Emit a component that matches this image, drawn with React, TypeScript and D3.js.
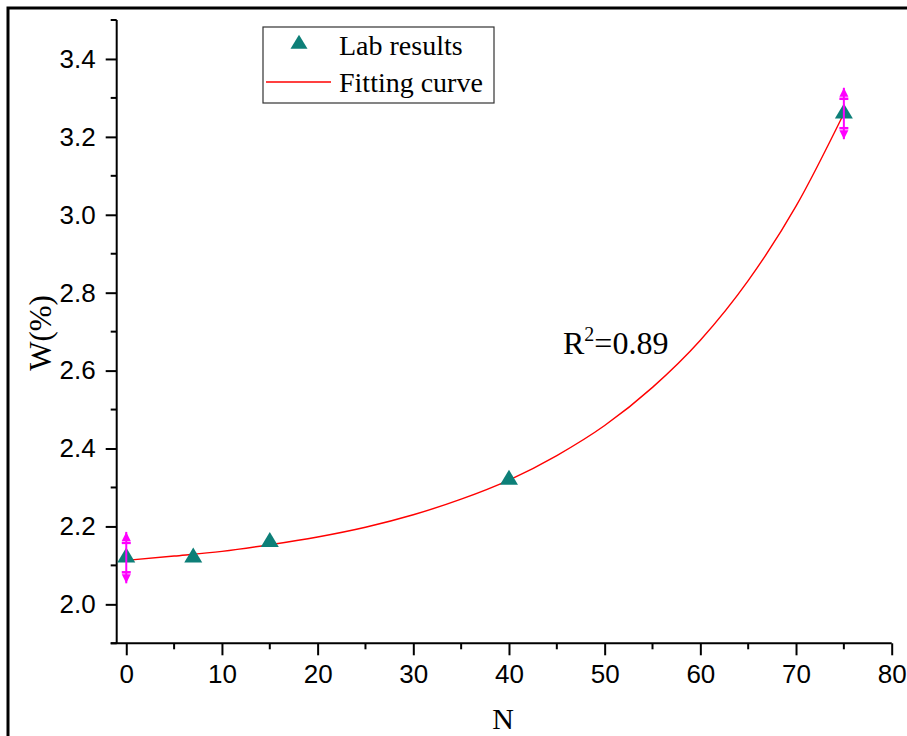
import React, { useEffect, useRef } from 'react';
import * as d3 from 'd3';

// lab measurements
const labN = [0, 7, 15, 40, 75];
const labW = [2.12, 2.12, 2.16, 2.32, 3.26];
// error bars only on first and last point
const errN = [0, 75];
const errW = [2.12, 3.26];
const errSize = [0.066, 0.066];

// fitted curve
const fitN = [0, 5, 10, 15, 20, 25, 30, 35, 40, 45, 50, 55, 60, 65, 70, 75];
const fitW = [2.113, 2.124, 2.136, 2.153, 2.173, 2.198, 2.23, 2.27, 2.319, 2.382, 2.459, 2.557, 2.678, 2.831, 3.022, 3.26];

const xMajor = [0, 10, 20, 30, 40, 50, 60, 70, 80];
const xMinor = [5, 15, 25, 35, 45, 55, 65, 75];
const yMajor = [2.0, 2.2, 2.4, 2.6, 2.8, 3.0, 3.2, 3.4];
const yMinor = [1.9, 2.1, 2.3, 2.5, 2.7, 2.9, 3.1, 3.3, 3.5];

const TEAL = '#0d7f78';
const MAGENTA = '#ff00ff';
const SANS = '"Liberation Sans", Arial, sans-serif';
const SERIF = '"Liberation Serif", "Times New Roman", serif';

export default function App() {
  const svgRef = useRef<SVGSVGElement | null>(null);
  const width = 907;
  const height = 736;

  useEffect(() => {
    const svg = d3.select(svgRef.current!);
    svg.selectAll('*').remove();

    const x = d3.scaleLinear().domain([-1, 80]).range([116.7, 891.7]);
    const y = d3.scaleLinear().domain([1.9, 3.5]).range([643.3, 20]);

    svg.append('rect').attr('width', width).attr('height', height).attr('fill', '#fff');

    // outer frame (right/bottom run off the picture)
    svg
      .append('rect')
      .attr('x', 8)
      .attr('y', 8)
      .attr('width', width + 20)
      .attr('height', height + 20)
      .attr('fill', 'none')
      .attr('stroke', '#000')
      .attr('stroke-width', 3);

    // axes
    const axisX = svg
      .append('g')
      .attr('transform', `translate(0,${y(1.9)})`)
      .call(d3.axisBottom(x).tickValues(xMajor).tickSize(12).tickPadding(9).tickFormat(d3.format('d')));
    axisX.select('.domain').attr('d', `M${x(-1) - 6},0H${x(80)}`);
    axisX
      .selectAll('.minor')
      .data(xMinor)
      .join('line')
      .attr('class', 'minor')
      .attr('x1', (d) => x(d))
      .attr('x2', (d) => x(d))
      .attr('y2', 6)
      .attr('stroke', '#000')
      .attr('stroke-width', 2);

    const axisY = svg
      .append('g')
      .attr('transform', `translate(${x(-1)},0)`)
      .call(d3.axisLeft(y).tickValues(yMajor).tickSize(11).tickPadding(10).tickFormat(d3.format('.1f')));
    axisY.select('.domain').attr('d', `M0,${y(3.5)}V${y(1.9)}`);
    axisY
      .selectAll('.minor')
      .data(yMinor)
      .join('line')
      .attr('class', 'minor')
      .attr('y1', (d) => y(d))
      .attr('y2', (d) => y(d))
      .attr('x2', -6)
      .attr('stroke', '#000')
      .attr('stroke-width', 2);

    [axisX, axisY].forEach((g) => {
      g.selectAll('.domain').attr('stroke', '#000').attr('stroke-width', 2);
      g.selectAll('.tick line').attr('stroke', '#000').attr('stroke-width', 2);
      g.selectAll('.tick text')
        .attr('fill', '#000')
        .style('font-family', SANS)
        .style('font-size', '26px');
    });

    // axis titles
    svg
      .append('text')
      .attr('transform', `translate(51,333) rotate(-90)`)
      .attr('text-anchor', 'middle')
      .style('font-family', SERIF)
      .style('font-size', '31px')
      .text('W(%)');
    svg
      .append('text')
      .attr('x', 503)
      .attr('y', 729)
      .attr('text-anchor', 'middle')
      .style('font-family', SERIF)
      .style('font-size', '30px')
      .text('N');

    // fitting curve
    const line = d3
      .line<number>()
      .x((_, i) => x(fitN[i]))
      .y((d) => y(d))
      .curve(d3.curveMonotoneX);
    svg
      .append('path')
      .attr('d', line(fitW))
      .attr('fill', 'none')
      .attr('stroke', '#ff0000')
      .attr('stroke-width', 1.4);

    // triangles
    const tri = (w: number, h: number) => `M0,${-h * 2 / 3}L${w / 2},${h / 3}L${-w / 2},${h / 3}Z`;
    svg
      .append('g')
      .selectAll('path')
      .data(labW)
      .join('path')
      .attr('transform', (d, i) => `translate(${x(labN[i])},${y(d)})`)
      .attr('d', tri(18, 15))
      .attr('fill', TEAL);

    // error bars with arrow heads
    const eg = svg.append('g');
    errW.forEach((d, i) => {
      const cx = x(errN[i]);
      const top = y(d + errSize[i]);
      const bot = y(d - errSize[i]);
      eg.append('line')
        .attr('x1', cx)
        .attr('x2', cx)
        .attr('y1', top)
        .attr('y2', bot)
        .attr('stroke', MAGENTA)
        .attr('stroke-width', 2);
      eg.append('path')
        .attr('d', `M${cx},${top}L${cx + 4.5},${top + 9}L${cx - 4.5},${top + 9}Z`)
        .attr('fill', MAGENTA);
      eg.append('path')
        .attr('d', `M${cx},${bot}L${cx + 4.5},${bot - 9}L${cx - 4.5},${bot - 9}Z`)
        .attr('fill', MAGENTA);
      eg.append('line')
        .attr('x1', cx - 4.5)
        .attr('x2', cx + 4.5)
        .attr('y1', top + 11)
        .attr('y2', top + 11)
        .attr('stroke', MAGENTA)
        .attr('stroke-width', 2.5);
      eg.append('line')
        .attr('x1', cx - 4.5)
        .attr('x2', cx + 4.5)
        .attr('y1', bot - 11)
        .attr('y2', bot - 11)
        .attr('stroke', MAGENTA)
        .attr('stroke-width', 2.5);
    });

    // R^2 note
    const r2 = svg
      .append('text')
      .attr('x', 563)
      .attr('y', 354)
      .style('font-family', SERIF)
      .style('font-size', '32px');
    r2.append('tspan').text('R');
    r2.append('tspan').attr('dy', -13).style('font-size', '20px').text('2');
    r2.append('tspan').attr('dy', 13).text('=0.89');

    // legend
    const lg = svg.append('g');
    lg.append('rect')
      .attr('x', 263)
      .attr('y', 27)
      .attr('width', 231)
      .attr('height', 76)
      .attr('fill', '#fff')
      .attr('stroke', '#333')
      .attr('stroke-width', 1.2);
    lg.append('path')
      .attr('transform', 'translate(299,44)')
      .attr('d', tri(17, 14))
      .attr('fill', TEAL);
    lg.append('line')
      .attr('x1', 266)
      .attr('x2', 331)
      .attr('y1', 82)
      .attr('y2', 82)
      .attr('stroke', '#ff0000')
      .attr('stroke-width', 1.4);
    lg.append('text')
      .attr('x', 339)
      .attr('y', 55)
      .style('font-family', SERIF)
      .style('font-size', '28px')
      .text('Lab results');
    lg.append('text')
      .attr('x', 339)
      .attr('y', 92)
      .style('font-family', SERIF)
      .style('font-size', '28px')
      .text('Fitting curve');
  }, []);

  return (
    <svg
      ref={svgRef}
      width={width}
      height={height}
      style={{ position: 'absolute', left: 0, top: 0, display: 'block' }}
    />
  );
}
